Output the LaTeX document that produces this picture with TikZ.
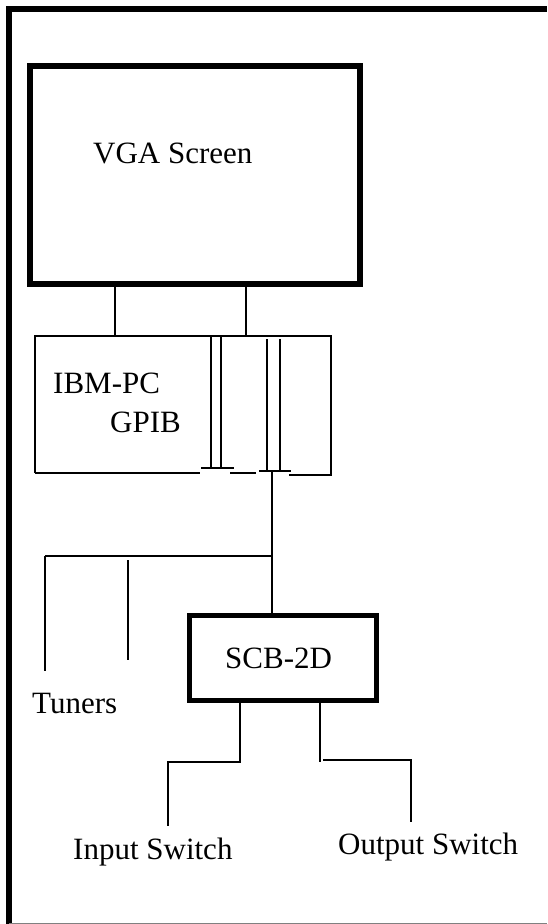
\documentclass[tikz,border=0pt]{standalone}
\usepackage{fontspec}
\setmainfont{Liberation Serif}
\begin{document}
\begin{tikzpicture}[x=1pt,y=-1pt,
  thick box/.style={draw,line width=6pt,inner sep=0pt},
  mid box/.style={draw,line width=5pt,inner sep=0pt},
  wire/.style={line width=1.8pt},
  lbl/.style={anchor=base west,inner sep=0pt,font=\fontsize{31}{36}\selectfont}]
\useasboundingbox (0,0) rectangle (547,924);
% outer frame
\draw[line width=6pt] (9,924) -- (9,9) -- (547,9);
\draw[line width=1pt,gray] (9,923) -- (547,923);
% VGA screen
\node[thick box,minimum width=330.5pt,minimum height=218pt] (vga) at (194.75,175) {};
\node[lbl] (vgat) at (93,163) {VGA Screen};
% IBM-PC box
\coordinate (ibmTL) at (35,336);
\coordinate (ibmTR) at (331,336);
\coordinate (ibmBL) at (35,473);
\coordinate (ibmBR) at (331,475);
\draw[wire] (ibmBL) -- (ibmTL) -- (ibmTR) -- (ibmBR) -- (289,475);
\draw[wire] (ibmBL) -- (200,473);
\draw[wire] (230,473) -- (256,473);
\node[lbl] (ibmt) at (53,393) {IBM-PC};
\node[lbl] (gpibt) at (110,432) {GPIB};
% VGA to IBM connectors
\draw[wire] (115,284) -- (115,336);
\draw[wire] (246,284) -- (246,336);
% GPIB card slots
\coordinate (t1) at (217.5,468);
\coordinate (t2) at (275,471);
\draw[wire] (211,337) -- (211,468);
\draw[wire] (221,337) -- (221,468);
\draw[wire] (201,468) -- (234,468);
\draw[wire] (267,339) -- (267,471);
\draw[wire] (280,339) -- (280,471);
\draw[wire] (259,471) -- (291,471);
% SCB-2D box
\node[mid box,minimum width=187pt,minimum height=85pt] (scb) at (283,658) {};
\node[lbl] (scbt) at (225,668) {SCB-2D};
% bus
\coordinate (bus) at (272,556);
\draw[wire] (272,471) -- (bus) -- (45,556);
\draw[wire] (bus) -- (272,613);
% tuners
\draw[wire] (45,556) -- (45,671);
\draw[wire] (128,560) -- (128,660);
\node[lbl] (tun) at (32,713) {Tuners};
% switches
\draw[wire] (240,703) -- (240,762) -- (168,762) -- (168,826);
\draw[wire] (320,703) -- (320,762);
\draw[wire] (323,760) -- (411,760) -- (411,822);
\node[lbl] (ins) at (73,859) {Input Switch};
\node[lbl] (outs) at (338,854) {Output Switch};
\end{tikzpicture}
\end{document}
